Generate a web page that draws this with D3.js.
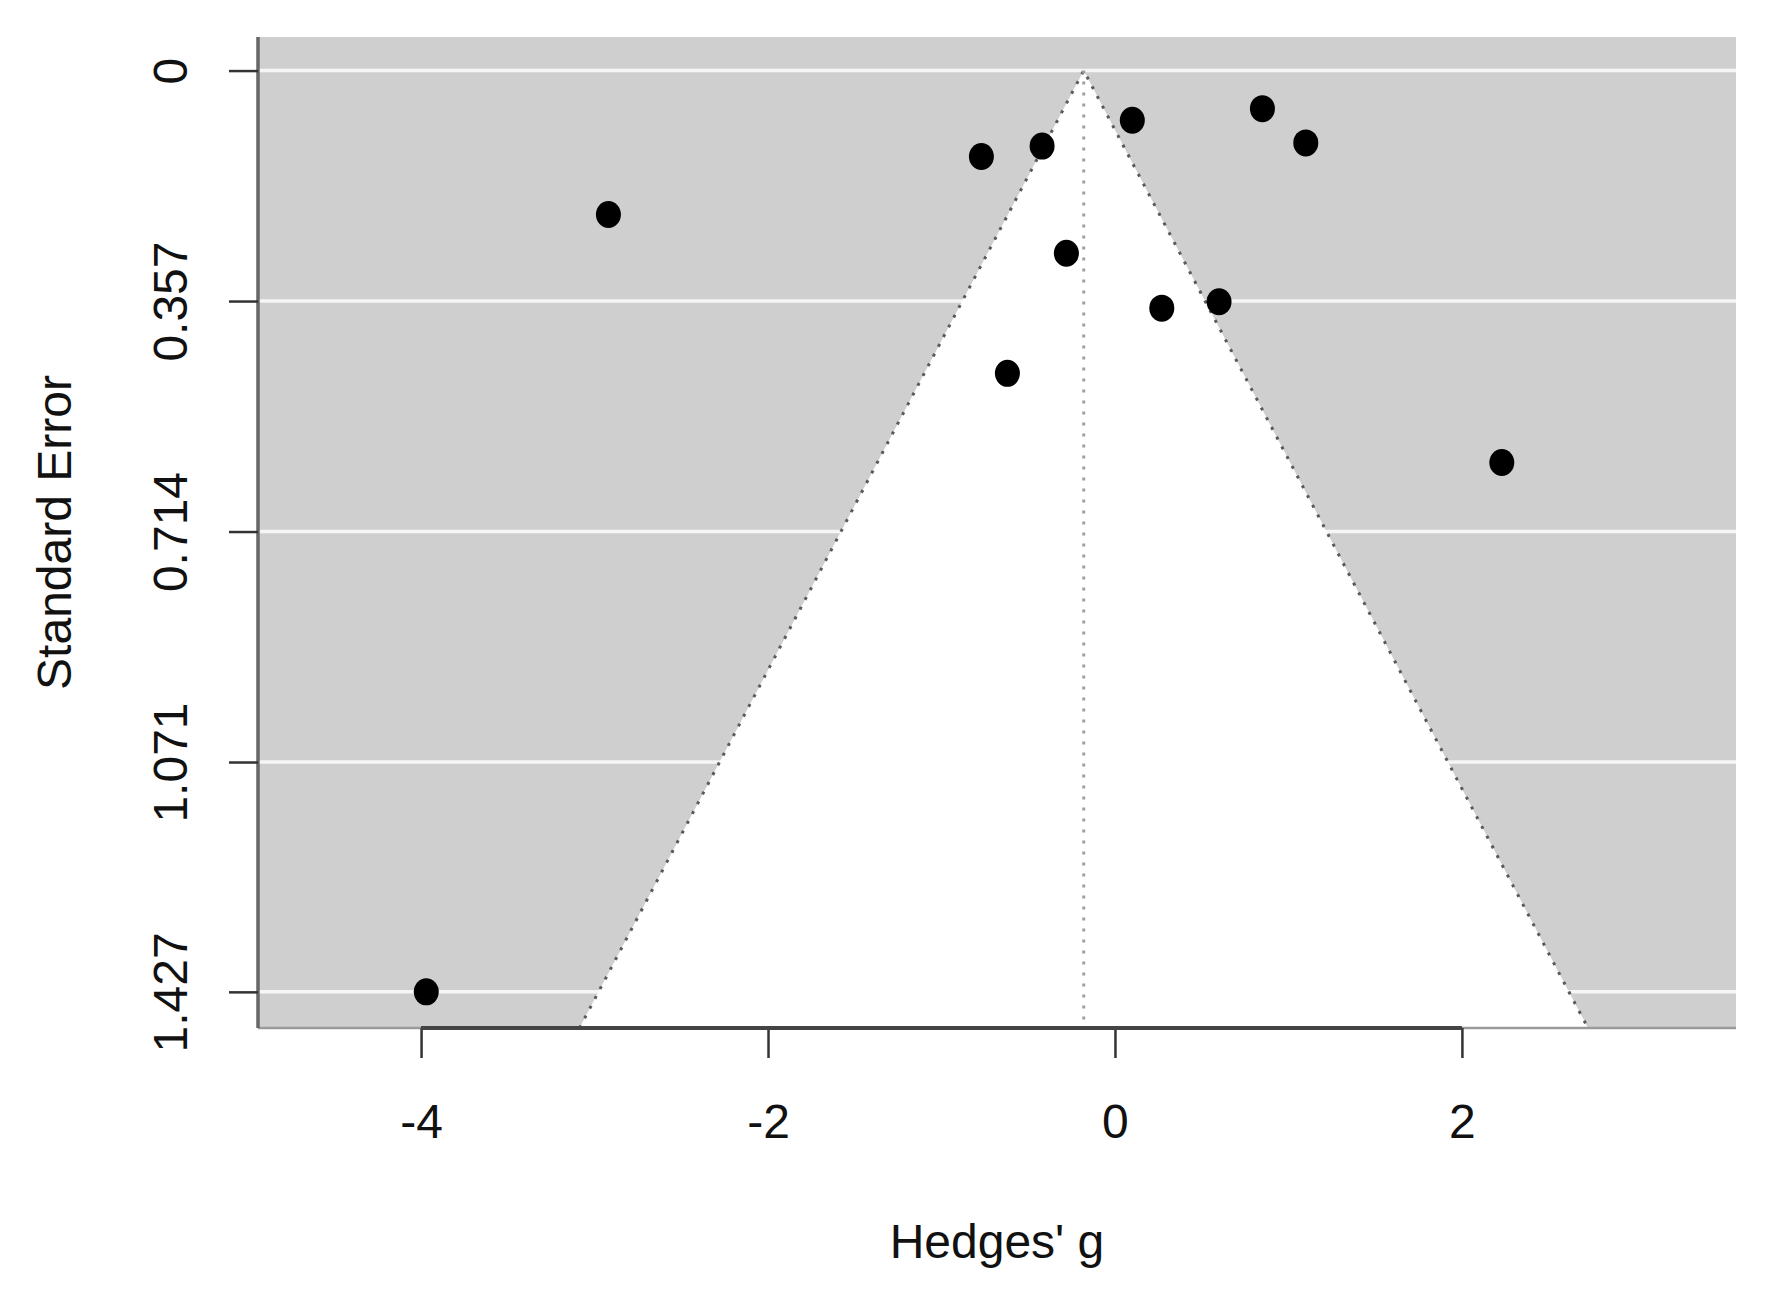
<!DOCTYPE html>
<html>
<head>
<meta charset="utf-8">
<script src="https://cdn.jsdelivr.net/npm/d3@7"></script>
<style>
  body { margin: 0; background: #fff; }
  svg { display: block; font-family: "Liberation Sans", Arial, sans-serif; }
</style>
</head>
<body>
<script>
// study effect sizes and their standard errors
var hedgesG = [-3.97, -2.92, -0.77, -0.42, 0.10, 0.85, 1.10, -0.28, 0.27, 0.60, -0.62, 2.23];
var stdErr  = [1.427, 0.223, 0.133, 0.117, 0.077, 0.059, 0.112, 0.283, 0.368, 0.358, 0.469, 0.607];
var pooled = -0.18;

var xTicks = [-4, -2, 0, 2];
var yTicks = [0, 0.357, 0.714, 1.071, 1.427];
var yTickLabels = ["0", "0.357", "0.714", "1.071", "1.427"];

var width = 1766, height = 1304;
var panel = { left: 258, top: 37, right: 1736, bottom: 1028 };

var x = d3.scaleLinear()
    .domain([-4.94, 3.58])
    .range([panel.left, panel.right]);

var y = d3.scaleLinear()
    .domain([-0.052, 1.483])
    .range([panel.top, panel.bottom]);

var svg = d3.select("body").append("svg")
    .attr("width", width)
    .attr("height", height);

svg.append("defs").append("clipPath")
    .attr("id", "clip")
    .append("rect")
    .attr("x", panel.left)
    .attr("y", panel.top)
    .attr("width", panel.right - panel.left)
    .attr("height", panel.bottom - panel.top);

// grey background
svg.append("rect")
    .attr("x", panel.left)
    .attr("y", panel.top)
    .attr("width", panel.right - panel.left)
    .attr("height", panel.bottom - panel.top)
    .attr("fill", "#cfcfcf");

// white grid lines
svg.selectAll(".grid")
    .data(yTicks)
    .enter().append("line")
    .attr("class", "grid")
    .attr("x1", panel.left)
    .attr("x2", panel.right)
    .attr("y1", function (d) { return y(d); })
    .attr("y2", function (d) { return y(d); })
    .attr("stroke", "#f6f6f6")
    .attr("stroke-width", 3.5);

// funnel
var seMax = y.domain()[1];
var funnel = [
    [pooled - 1.96 * seMax, seMax],
    [pooled, 0],
    [pooled + 1.96 * seMax, seMax]
];

var g = svg.append("g").attr("clip-path", "url(#clip)");

g.append("path")
    .datum(funnel)
    .attr("d", d3.line()
        .x(function (d) { return x(d[0]); })
        .y(function (d) { return y(d[1]); }))
    .attr("fill", "#fff")
    .attr("stroke", "none");

g.append("path")
    .datum(funnel)
    .attr("d", d3.line()
        .x(function (d) { return x(d[0]); })
        .y(function (d) { return y(d[1]); }))
    .attr("fill", "none")
    .attr("stroke", "#5a5a5a")
    .attr("stroke-width", 3)
    .attr("stroke-dasharray", "3,8");

g.append("line")
    .attr("x1", x(pooled))
    .attr("x2", x(pooled))
    .attr("y1", y(0))
    .attr("y2", panel.bottom)
    .attr("stroke", "#a0a0a0")
    .attr("stroke-width", 3)
    .attr("stroke-dasharray", "3,8");

// panel edges
svg.append("line")
    .attr("x1", panel.left).attr("x2", panel.right)
    .attr("y1", panel.bottom).attr("y2", panel.bottom)
    .attr("stroke", "#9a9a9a")
    .attr("stroke-width", 2.5);

svg.append("line")
    .attr("x1", panel.left).attr("x2", panel.left)
    .attr("y1", panel.top).attr("y2", panel.bottom)
    .attr("stroke", "#666")
    .attr("stroke-width", 3.5);

// points
svg.selectAll(".dot")
    .data(hedgesG)
    .enter().append("ellipse")
    .attr("class", "dot")
    .attr("cx", function (d) { return x(d); })
    .attr("cy", function (d, i) { return y(stdErr[i]); })
    .attr("rx", 12.5)
    .attr("ry", 13.5)
    .attr("fill", "#000");

// x axis
var xAxis = d3.axisBottom(x)
    .tickValues(xTicks)
    .tickSize(30)
    .tickPadding(46)
    .tickFormat(d3.format("d"));

var gx = svg.append("g")
    .attr("class", "x axis")
    .attr("transform", "translate(0," + panel.bottom + ")")
    .call(xAxis);

gx.select(".domain").remove();
gx.selectAll(".tick line").attr("stroke", "#333").attr("stroke-width", 2.5);
gx.selectAll(".tick text")
    .attr("fill", "#111")
    .style("font-size", "48px")
    .text(function (d) { return d < 0 ? "-" + Math.abs(d) : d; });

gx.append("line")
    .attr("x1", x(xTicks[0]))
    .attr("x2", x(xTicks[xTicks.length - 1]))
    .attr("stroke", "#444")
    .attr("stroke-width", 4);

// y axis
var yAxis = d3.axisLeft(y)
    .tickValues(yTicks)
    .tickSize(29)
    .tickFormat(function (d, i) { return yTickLabels[i]; });

var gy = svg.append("g")
    .attr("class", "y axis")
    .attr("transform", "translate(" + panel.left + ",0)")
    .call(yAxis);

gy.select(".domain").remove();
gy.selectAll(".tick line").attr("stroke", "#333").attr("stroke-width", 2.5);
gy.selectAll(".tick text")
    .attr("fill", "#111")
    .attr("x", 0)
    .attr("y", 0)
    .attr("dy", 0)
    .attr("transform", "translate(-71,0) rotate(-90)")
    .style("text-anchor", "middle")
    .style("font-size", "48px");

// axis titles
svg.append("text")
    .attr("x", (panel.left + panel.right) / 2)
    .attr("y", 1258)
    .style("text-anchor", "middle")
    .style("font-size", "48px")
    .attr("fill", "#111")
    .text("Hedges' g");

svg.append("text")
    .attr("transform", "translate(71," + (panel.top + panel.bottom) / 2 + ") rotate(-90)")
    .style("text-anchor", "middle")
    .style("font-size", "48px")
    .attr("fill", "#111")
    .text("Standard Error");
</script>
</body>
</html>
